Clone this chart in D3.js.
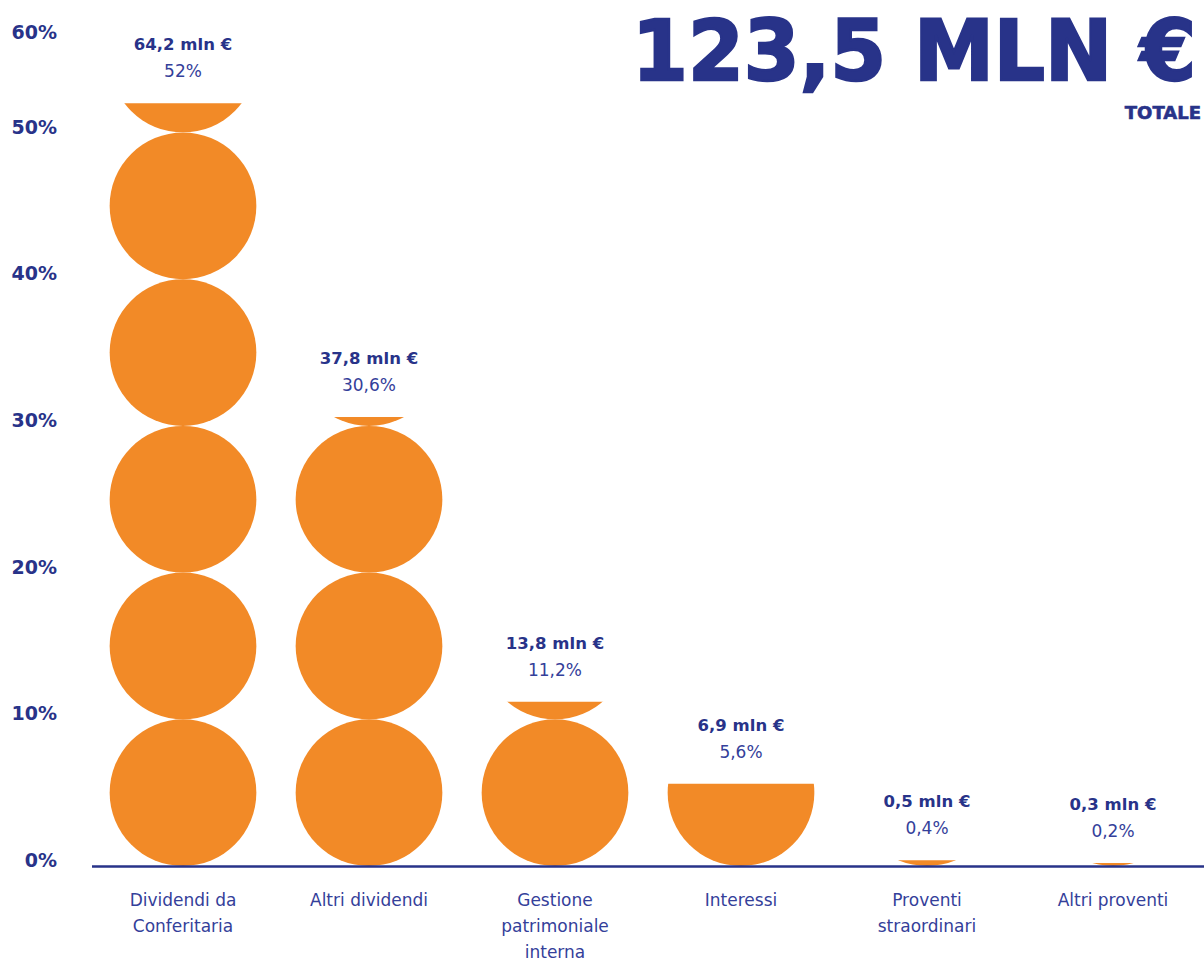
<!DOCTYPE html>
<html>
<head>
<meta charset="utf-8">
<script src="https://cdn.jsdelivr.net/npm/d3@7"></script>
<style>
  html, body { margin: 0; padding: 0; background: #fff; }
  svg { display: block; }
</style>
</head>
<body>
<svg id="chart" width="1204" height="962"></svg>
<script>
// ---- data ----
const categories = [
  ["Dividendi da", "Conferitaria"],
  ["Altri dividendi"],
  ["Gestione", "patrimoniale", "interna"],
  ["Interessi"],
  ["Proventi", "straordinari"],
  ["Altri proventi"]
];
const percentValues = [52, 30.6, 11.2, 5.6, 0.4, 0.2];
const amountLabels = ["64,2 mln €", "37,8 mln €", "13,8 mln €", "6,9 mln €", "0,5 mln €", "0,3 mln €"];
const percentLabels = ["52%", "30,6%", "11,2%", "5,6%", "0,4%", "0,2%"];
const yTicks = [0, 10, 20, 30, 40, 50, 60];
const totalLabel = "123,5 MLN €";
const totalSub = "TOTALE";

// ---- styles ----
const ORANGE = "#F28A27";
const NAVY = "#283389";
const TEXT = "#34409A";
const FONT = "'DejaVu Sans', sans-serif";

const svg = d3.select("#chart");
const keys = categories.map((c, i) => i);

const x = d3.scaleBand().domain(keys).range([90, 1206]).padding(0);
const y = d3.scaleLinear().domain([0, 10]).range([866, 719.3]);
const r = (y(0) - y(10)) / 2;
const cx = i => x(i) + x.bandwidth() / 2;

// y-axis labels
svg.append("g").selectAll("text").data(yTicks).join("text")
  .attr("x", 57)
  .attr("y", d => Math.max(y(d) + 1, 39))
  .attr("text-anchor", "end")
  .attr("font-family", FONT)
  .attr("font-weight", "bold")
  .attr("font-size", 19)
  .attr("fill", NAVY)
  .text(d => d + "%");

// bars made of stacked circles
const defs = svg.append("defs");
const bars = svg.append("g");
percentValues.forEach((v, i) => {
  const full = Math.floor(v / 10 + 1e-9);
  const rem = v - full * 10;
  const g = bars.append("g");
  for (let k = 0; k < full; k++) {
    g.append("circle")
      .attr("cx", cx(i))
      .attr("cy", y(k * 10 + 5))
      .attr("r", r)
      .attr("fill", ORANGE);
  }
  if (rem > 1e-6) {
    const id = "clip" + i;
    defs.append("clipPath").attr("id", id)
      .append("rect")
      .attr("x", cx(i) - r - 1)
      .attr("width", 2 * r + 2)
      .attr("y", y(v))
      .attr("height", y(full * 10) - y(v));
    g.append("circle")
      .attr("cx", cx(i))
      .attr("cy", y(full * 10 + 5))
      .attr("r", r)
      .attr("fill", ORANGE)
      .attr("clip-path", `url(#${id})`);
  }
});

// baseline
svg.append("line")
  .attr("x1", 92).attr("x2", 1204)
  .attr("y1", y(0) + 0.5).attr("y2", y(0) + 0.5)
  .attr("stroke", NAVY).attr("stroke-width", 2.5);

// value labels
const lab = svg.append("g");
percentValues.forEach((v, i) => {
  lab.append("text")
    .attr("x", cx(i)).attr("y", y(v) - 53)
    .attr("text-anchor", "middle")
    .attr("font-family", FONT).attr("font-weight", "bold")
    .attr("font-size", 16.5).attr("fill", NAVY)
    .text(amountLabels[i]);
  lab.append("text")
    .attr("x", cx(i)).attr("y", y(v) - 26)
    .attr("text-anchor", "middle")
    .attr("font-family", FONT)
    .attr("font-size", 17).attr("fill", TEXT)
    .text(percentLabels[i]);
});

// category labels
const cat = svg.append("g");
categories.forEach((lines, i) => {
  const t = cat.append("text")
    .attr("text-anchor", "middle")
    .attr("font-family", FONT)
    .attr("font-size", 17)
    .attr("fill", TEXT);
  lines.forEach((ln, j) => {
    t.append("tspan").attr("x", cx(i)).attr("y", y(0) + 40 + j * 26).text(ln);
  });
});

// total (scaled horizontally to the reference width)
const titleG = svg.append("g");
const title = titleG.append("text")
  .attr("x", 0).attr("y", 0)
  .attr("text-anchor", "end")
  .attr("font-family", FONT).attr("font-weight", "bold")
  .attr("font-size", 84)
  .attr("fill", NAVY)
  .attr("stroke", NAVY).attr("stroke-width", 2.5)
  .text(totalLabel);
const tw = title.node().getComputedTextLength();
titleG.attr("transform", `translate(1196,80) scale(${564 / tw},1)`);

svg.append("text")
  .attr("x", 1201).attr("y", 119)
  .attr("text-anchor", "end")
  .attr("font-family", FONT).attr("font-weight", "bold")
  .attr("font-size", 18)
  .attr("fill", NAVY)
  .attr("stroke", NAVY).attr("stroke-width", 0.6)
  .text(totalSub);
</script>
</body>
</html>
